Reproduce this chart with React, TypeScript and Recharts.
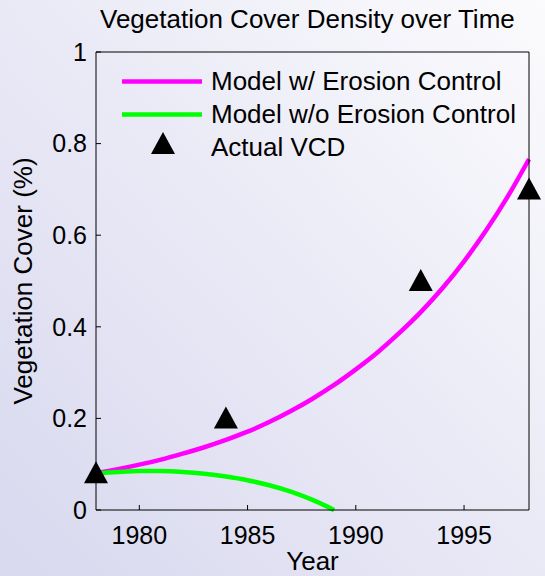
import React from "react";
import { ComposedChart, XAxis, YAxis, Line, Scatter } from "recharts";

// model curve with erosion control, one value per year
const years = [
  1978, 1979, 1980, 1981, 1982, 1983, 1984, 1985, 1986, 1987, 1988,
  1989, 1990, 1991, 1992, 1993, 1994, 1995, 1996, 1997, 1998,
];
const withControl = [
  0.08, 0.089, 0.099, 0.11, 0.123, 0.137, 0.153, 0.171, 0.192, 0.216, 0.243,
  0.273, 0.307, 0.344, 0.386, 0.432, 0.484, 0.543, 0.609, 0.683, 0.766,
];

// model curve without erosion control (drops out of view after 1989)
const noControlYears = [1978, 1979, 1980, 1981, 1982, 1983, 1984, 1985, 1986, 1987, 1988, 1989];
const withoutControl = [0.08, 0.083, 0.085, 0.085, 0.083, 0.079, 0.073, 0.065, 0.054, 0.04, 0.022, 0];

// observed vegetation cover density
const vcdYears = [1978, 1984, 1993, 1998];
const vcdValues = [0.08, 0.2, 0.5, 0.7];

const xTicks = [1980, 1985, 1990, 1995];
const yTicks = [0, 0.2, 0.4, 0.6, 0.8, 1];

const withData = years.map((year, i) => ({ year, value: withControl[i] }));
const withoutData = noControlYears.map((year, i) => ({ year, value: withoutControl[i] }));
const vcdData = vcdYears.map((year, i) => ({ year, vcd: vcdValues[i] }));

const FONT = '"Liberation Sans", Arial, Helvetica, sans-serif';
const FS = 25; // tick labels
const FL = 26; // title, legend, axis labels
const TICK = 5;

const BottomTick = ({ x, y, payload }: any) => (
  <g>
    <line x1={x} x2={x} y1={y} y2={y - TICK} stroke="#000" />
    <text x={x} y={y + 34} textAnchor="middle" fontSize={FS} fontFamily={FONT} fill="#000">
      {payload.value}
    </text>
  </g>
);

const TopTick = ({ x, y }: any) => (
  <line x1={x} x2={x} y1={y} y2={y + TICK} stroke="#000" />
);

const LeftTick = ({ x, y, payload }: any) => (
  <g>
    <line x1={x} x2={x + TICK} y1={y} y2={y} stroke="#000" />
    <text x={x - 9} y={y} dy="0.35em" textAnchor="end" fontSize={FS} fontFamily={FONT} fill="#000">
      {String(payload.value)}
    </text>
  </g>
);

const RightTick = ({ x, y }: any) => (
  <line x1={x} x2={x - TICK} y1={y} y2={y} stroke="#000" />
);

const Triangle = ({ cx, cy }: any) => (
  <polygon
    points={`${cx},${cy - 12} ${cx - 12},${cy + 10} ${cx + 12},${cy + 10}`}
    fill="#000"
  />
);

const YLabel = ({ viewBox }: any) => {
  const x = viewBox.x + viewBox.width - 73;
  const y = viewBox.y + viewBox.height / 2;
  return (
    <text
      x={x}
      y={y}
      transform={`rotate(-90 ${x} ${y})`}
      textAnchor="middle"
      dy="0.35em"
      fontSize={FL}
      fontFamily={FONT}
      fill="#000"
    >
      Vegetation Cover (%)
    </text>
  );
};

const legendRows = [
  { label: "Model w/ Erosion Control", color: "#ff00ff", kind: "line" },
  { label: "Model w/o Erosion Control", color: "#00ff00", kind: "line" },
  { label: "Actual VCD", color: "#000", kind: "marker" },
];

const ChartLegend = () => (
  <div style={{ position: "absolute", left: 122, top: 64.5, fontFamily: FONT, fontSize: FL }}>
    {legendRows.map((r) => (
      <div key={r.label} style={{ display: "flex", alignItems: "center", height: 33 }}>
        <svg width={80} height={33} style={{ flex: "none" }}>
          {r.kind === "line" ? (
            <line x1={0} x2={80} y1={16.5} y2={16.5} stroke={r.color} strokeWidth={4.5} />
          ) : (
            <polygon points="41,1 29,23 53,23" fill="#000" />
          )}
        </svg>
        <span style={{ marginLeft: 9, whiteSpace: "nowrap" }}>{r.label}</span>
      </div>
    ))}
  </div>
);

export default function App() {
  return (
    <div
      style={{
        position: "absolute",
        left: 0,
        top: 0,
        width: 545,
        height: 576,
        background: "linear-gradient(to top right, #d8d8ef, #e9e9f6 50%, #fbfbfd)",
      }}
    >
      <div
        style={{
          position: "absolute",
          left: 100,
          top: 6,
          fontFamily: FONT,
          fontSize: FL,
          lineHeight: "26px",
          whiteSpace: "nowrap",
          color: "#000",
        }}
      >
        Vegetation Cover Density over Time
      </div>
      <ComposedChart
        width={545}
        height={576}
        margin={{ top: 42, right: 6, bottom: 36, left: 36 }}
        style={{ position: "absolute", left: 0, top: 0 }}
      >
        <XAxis
          dataKey="year"
          type="number"
          domain={[1978, 1998]}
          ticks={xTicks}
          interval={0}
          height={30}
          tickSize={0}
          tickMargin={0}
          tickLine={false}
          axisLine={{ stroke: "#000" }}
          tick={<BottomTick />}
          label={{ value: "Year", position: "bottom", offset: 12, fontSize: FL, fontFamily: FONT, fill: "#000" }}
        />
        <XAxis
          xAxisId="top"
          orientation="top"
          dataKey="year"
          type="number"
          domain={[1978, 1998]}
          ticks={xTicks}
          interval={0}
          height={10}
          tickSize={0}
          tickMargin={0}
          tickLine={false}
          axisLine={{ stroke: "#000" }}
          tick={<TopTick />}
        />
        <YAxis
          type="number"
          domain={[0, 1]}
          ticks={yTicks}
          interval={0}
          width={60}
          tickSize={0}
          tickMargin={0}
          tickLine={false}
          axisLine={{ stroke: "#000" }}
          tick={<LeftTick />}
          label={<YLabel />}
        />
        <YAxis
          yAxisId="right"
          orientation="right"
          type="number"
          domain={[0, 1]}
          ticks={yTicks}
          interval={0}
          width={10}
          tickSize={0}
          tickMargin={0}
          tickLine={false}
          axisLine={{ stroke: "#000" }}
          tick={<RightTick />}
        />
        <Line
          data={withData}
          dataKey="value"
          type="monotone"
          stroke="#ff00ff"
          strokeWidth={4.5}
          dot={false}
          isAnimationActive={false}
        />
        <Line
          data={withoutData}
          dataKey="value"
          type="monotone"
          stroke="#00ff00"
          strokeWidth={4.5}
          dot={false}
          isAnimationActive={false}
        />
        <Scatter
          data={vcdData}
          dataKey="vcd"
          shape={<Triangle />}
          isAnimationActive={false}
        />
      </ComposedChart>
      <ChartLegend />
    </div>
  );
}
